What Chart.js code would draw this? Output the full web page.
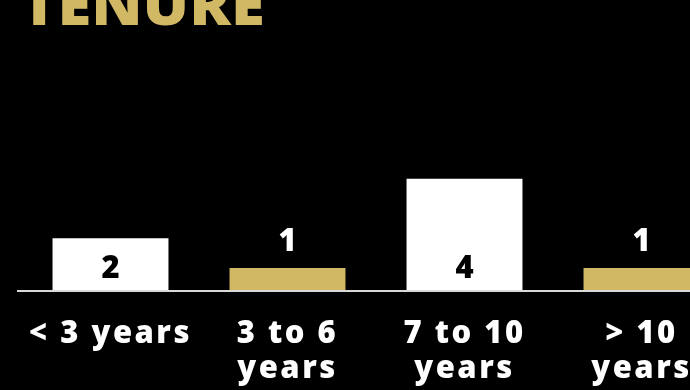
<!DOCTYPE html>
<html>
<head>
<meta charset="utf-8">
<script src="https://cdn.jsdelivr.net/npm/chart.js@4.4.0/dist/chart.umd.min.js"></script>
<style>
  html, body { margin: 0; padding: 0; background: #000; width: 690px; height: 390px; overflow: hidden; }
  #title { position: absolute; left: 21px; top: -25px; font-family: 'Open Sans', sans-serif; font-weight: 800; font-size: 56px; line-height: 1; color: #D0B865; letter-spacing: 0px; margin: 0; transform: scaleX(1.1); transform-origin: left top; }
  #wrap { position: absolute; left: 0; top: 0; width: 730px; height: 390px; }
</style>
</head>
<body>
<div id="title">TENURE</div>
<div id="wrap"><canvas id="c" width="730" height="390"></canvas></div>
<script>
const categories = [["< 3 years"], ["3 to 6", "years"], ["7 to 10", "years"], ["> 10", "years"]];
const values = [2, 1, 4, 1];
const barColors = ["#FFFFFF", "#D0B865", "#FFFFFF", "#D0B865"];

const FONT = "'Open Sans', sans-serif";

const spacing = {
  id: 'spacing',
  beforeLayout(chart) { chart.ctx.letterSpacing = '2.5px'; },
  beforeDraw(chart) { chart.ctx.letterSpacing = '2.5px'; }
};

const baseLine = {
  id: 'baseLine',
  afterDatasetsDraw(chart) {
    const ctx = chart.ctx;
    const y = chart.chartArea.bottom;
    ctx.save();
    ctx.strokeStyle = '#d9d9d9';
    ctx.lineWidth = 2;
    ctx.beginPath();
    ctx.moveTo(17, y);
    ctx.lineTo(chart.width, y);
    ctx.stroke();
    ctx.restore();
  }
};

const valueLabels = {
  id: 'valueLabels',
  afterDatasetsDraw(chart) {
    const ctx = chart.ctx;
    const meta = chart.getDatasetMeta(0);
    ctx.save();
    ctx.letterSpacing = '0px';
    ctx.font = "800 31px " + FONT;
    ctx.textAlign = 'center';
    ctx.textBaseline = 'middle';
    meta.data.forEach((bar, i) => {
      const h = bar.base - bar.y;
      if (h > 40) {
        ctx.fillStyle = '#000';
        ctx.fillText(String(values[i]), bar.x, bar.base - 29);
      } else {
        ctx.fillStyle = '#fff';
        ctx.fillText(String(values[i]), bar.x, bar.y - 26);
      }
    });
    ctx.restore();
  }
};

new Chart(document.getElementById('c'), {
  type: 'bar',
  data: {
    labels: categories,
    datasets: [{
      data: values,
      backgroundColor: barColors,
      borderWidth: 0,
      barPercentage: 0.655,
      categoryPercentage: 1
    }]
  },
  options: {
    responsive: false,
    animation: false,
    devicePixelRatio: 1,
    layout: { padding: { left: 22, right: 0, top: 60, bottom: 0 } },
    plugins: { legend: { display: false }, tooltip: { enabled: false } },
    scales: {
      x: {
        grid: { display: false, drawTicks: false },
        border: { display: false },
        ticks: {
          color: '#fff',
          font: { family: FONT, weight: '800', size: 31, lineHeight: 1.13 },
          padding: 26,
          maxRotation: 0,
          autoSkip: false
        },
        afterFit(s) { s.height = 99; }
      },
      y: {
        display: false,
        min: 0.225,
        max: 8
      }
    }
  },
  plugins: [spacing, baseLine, valueLabels]
});
</script>
</body>
</html>
